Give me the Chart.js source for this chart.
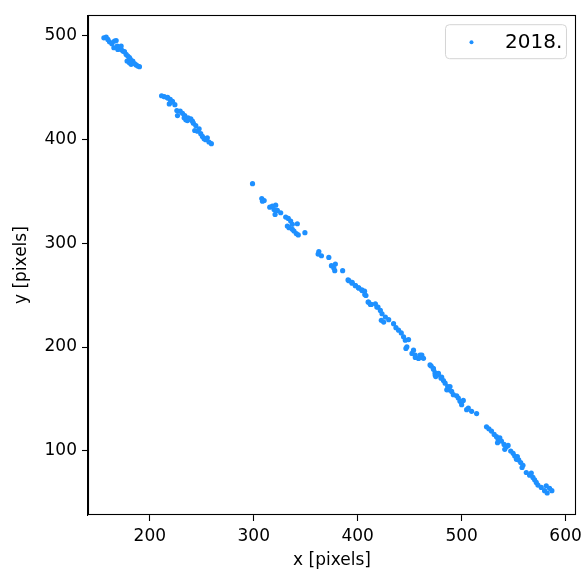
<!DOCTYPE html>
<html>
<head>
<meta charset="utf-8">
<script src="https://cdn.jsdelivr.net/npm/chart.js@4/dist/chart.umd.min.js"></script>
<style>
  html, body { margin: 0; padding: 0; background: #fff; }
  #wrap { width: 587px; height: 571px; position: relative; }
</style>
</head>
<body>
<div id="wrap"><canvas id="c" width="587" height="571"></canvas></div>
<script>
const seriesLabel = '2018.';
const xTickValues = [200, 300, 400, 500, 600];
const yTickValues = [100, 200, 300, 400, 500];
const xAxisTitle = 'x [pixels]';
const yAxisTitle = 'y [pixels]';

const xValues = [
  155.8, 158.0, 159.6, 161.2, 163.5, 166.0, 167.6, 165.4, 168.6, 170.8, 169.2, 172.4, 174.0, 175.6, 177.2, 178.8, 180.4, 178.1, 180.4, 182.0, 183.6, 185.2, 186.8, 188.4, 190.0, 181.3, 172.4,
  211.3, 213.9, 217.1, 219.6, 221.8, 218.7, 224.1, 226.0, 226.6, 229.2, 231.4, 233.6, 234.6, 236.8, 239.4, 241.9, 244.2, 243.2, 245.8, 247.4, 249.0, 250.6, 252.2, 253.7, 255.3, 256.9, 259.2, 220.3, 236.2, 241.0, 233.0, 217.1,
  298.8, 307.7, 310.0, 308.4, 315.4, 317.9, 321.1, 319.5, 322.7, 320.5, 325.9, 330.7, 333.2, 335.5, 341.9, 337.1, 333.9, 337.1, 338.7, 340.9, 342.8, 349.2, 332.3,
  362.6, 361.9, 365.1, 372.2, 374.7, 377.0, 378.5, 377.9, 385.5, 390.7, 394.5, 397.7, 400.9, 404.0, 406.6, 407.9, 410.4, 413.0, 418.4,
  391.5, 394.7, 397.9, 401.0, 404.2, 406.8, 410.0, 412.2, 417.0, 419.5, 421.8, 423.4, 422.7, 426.6, 425.0, 434.5, 436.8, 439.3, 441.9, 444.1, 448.9, 447.3, 453.7, 455.3, 460.0, 461.7, 458.5, 469.6, 472.8, 474.4, 477.6, 480.8, 429.8,
  445.8, 446.4, 452.2, 455.4, 461.7, 463.3, 470.7, 472.9, 474.5, 477.7, 480.2, 482.5, 484.1, 486.6, 487.9, 490.4, 492.0, 495.2, 496.8, 498.4, 500.0, 501.6, 504.8, 506.4, 509.6, 514.4, 475.1, 485.7, 488.8,
  523.9, 526.2, 528.7, 531.3, 533.5, 535.1, 536.7, 534.5, 538.3, 540.8, 543.1, 544.7, 547.2, 549.5, 551.1, 553.6, 554.9, 556.8, 558.1, 562.2, 565.4, 567.0, 568.6, 570.2, 571.8, 573.4, 576.6, 579.8, 582.3, 584.6, 586.8, 581.4, 559.0, 552.7, 541.5
];
const yValues = [
  498.2, 498.8, 496.6, 494.3, 492.4, 495.0, 495.6, 488.6, 490.2, 488.6, 487.0, 487.0, 485.4, 484.8, 482.2, 480.6, 479.0, 475.8, 474.2, 472.6, 475.8, 473.3, 472.0, 471.0, 470.4, 477.4, 490.2,
  442.3, 441.4, 440.1, 438.8, 436.9, 434.4, 433.7, 428.0, 423.2, 427.4, 425.4, 423.2, 419.1, 421.0, 420.0, 415.9, 413.6, 408.8, 408.2, 410.4, 405.7, 403.1, 400.9, 399.9, 401.8, 397.7, 396.1, 436.0, 418.4, 417.8, 421.0, 440.7,
  357.5, 343.2, 341.3, 340.6, 334.9, 335.8, 336.8, 332.6, 331.7, 327.9, 329.5, 325.3, 324.0, 321.5, 318.9, 318.3, 315.1, 313.5, 311.9, 309.4, 308.1, 310.3, 316.7,
  292.1, 289.6, 288.0, 286.4, 278.4, 276.2, 280.0, 273.6, 273.6, 264.7, 261.5, 259.3, 257.0, 255.1, 253.9, 249.7, 243.3, 241.1, 238.5,
  264.0, 262.4, 259.2, 257.0, 254.4, 250.6, 243.3, 241.1, 241.7, 238.5, 235.3, 232.1, 225.7, 228.9, 224.1, 222.5, 218.7, 216.2, 213.6, 209.8, 207.2, 200.2, 197.0, 192.2, 192.2, 190.0, 189.0, 182.7, 179.5, 175.3, 173.1, 170.9, 226.4,
  206.6, 198.6, 193.8, 190.0, 192.2, 189.1, 181.7, 178.5, 173.1, 174.7, 169.9, 167.7, 165.1, 161.9, 158.7, 157.2, 154.0, 153.0, 150.8, 147.6, 144.4, 148.5, 139.6, 141.2, 138.0, 135.8, 171.5, 158.7, 161.9,
  123.0, 121.1, 118.9, 115.7, 113.5, 110.9, 112.5, 107.7, 109.3, 106.1, 103.9, 105.1, 99.7, 97.5, 94.9, 94.3, 91.1, 88.6, 83.8, 79.0, 76.4, 78.4, 74.2, 72.0, 69.4, 66.9, 64.6, 61.5, 59.2, 63.7, 61.5, 66.2, 86.0, 91.7, 101.3
];

const points = xValues.map((x, i) => ({ x: x, y: yValues[i] }));

const FONT = "'DejaVu Sans', sans-serif";
const pointColor = '#1E90FF';

const framePlugin = {
  id: 'frame',
  afterDatasetsDraw(chart) {
    const { ctx, chartArea: a } = chart;
    ctx.save();
    ctx.strokeStyle = '#000';
    ctx.lineWidth = 1.1;
    ctx.strokeRect(Math.round(a.left) + 0.5, Math.round(a.top) + 0.5,
      Math.round(a.right - a.left) - 1, Math.round(a.bottom - a.top) - 1);
    ctx.restore();
  }
};

const legendPlugin = {
  id: 'boxLegend',
  afterDraw(chart) {
    const { ctx, chartArea: a } = chart;
    const w = 121, h = 34;
    const x0 = a.right - 10 - w, y0 = a.top + 9;
    ctx.save();
    ctx.beginPath();
    if (ctx.roundRect) ctx.roundRect(x0 + 0.5, y0 + 0.5, w, h, 4); else ctx.rect(x0 + 0.5, y0 + 0.5, w, h);
    ctx.fillStyle = 'rgba(255,255,255,0.8)';
    ctx.fill();
    ctx.strokeStyle = '#d4d4d4';
    ctx.lineWidth = 1;
    ctx.stroke();
    ctx.beginPath();
    ctx.arc(x0 + 26.5, y0 + 18, 2, 0, Math.PI * 2);
    ctx.fillStyle = pointColor;
    ctx.fill();
    ctx.fillStyle = '#000';
    ctx.font = "20px " + FONT;
    ctx.textBaseline = 'alphabetic';
    ctx.textAlign = 'left';
    ctx.fillText(chart.data.datasets[0].label, x0 + 60, y0 + 24);
    ctx.restore();
  }
};

new Chart(document.getElementById('c'), {
  type: 'scatter',
  data: {
    datasets: [{
      label: seriesLabel,
      data: points,
      backgroundColor: pointColor,
      borderColor: pointColor,
      borderWidth: 0,
      pointRadius: 2.6,
      pointHoverRadius: 2.6
    }]
  },
  options: {
    responsive: false,
    animation: false,
    devicePixelRatio: 1,
    layout: { padding: { top: 12, right: 9, left: 0, bottom: 0 } },
    plugins: { legend: { display: false }, tooltip: { enabled: false } },
    scales: {
      x: {
        type: 'linear',
        min: 140.5,
        max: 610,
        afterBuildTicks(scale) { scale.ticks = xTickValues.map(v => ({ value: v })); },
        afterFit(scale) { scale.height = 56; },
        grid: { display: true, drawOnChartArea: false, drawTicks: true, tickLength: 6, tickWidth: 1.1, tickColor: '#000' },
        border: { display: true, color: '#000', width: 1.1 },
        ticks: { color: '#000', font: { family: FONT, size: 17 }, padding: 5, maxRotation: 0 },
        title: { display: true, text: xAxisTitle, color: '#000', font: { family: FONT, size: 17 }, padding: { top: 0, bottom: 0 } }
      },
      y: {
        type: 'linear',
        min: 38,
        max: 520,
        afterBuildTicks(scale) { scale.ticks = yTickValues.map(v => ({ value: v })); },
        afterFit(scale) { scale.width = 88; },
        grid: { display: true, drawOnChartArea: false, drawTicks: true, tickLength: 6, tickWidth: 1.1, tickColor: '#000' },
        border: { display: true, color: '#000', width: 1.1 },
        ticks: { color: '#000', font: { family: FONT, size: 17 }, padding: 5 },
        title: { display: true, text: yAxisTitle, color: '#000', font: { family: FONT, size: 17 }, padding: { top: 11, bottom: 0 } }
      }
    }
  },
  plugins: [framePlugin, legendPlugin]
});
</script>
</body>
</html>
